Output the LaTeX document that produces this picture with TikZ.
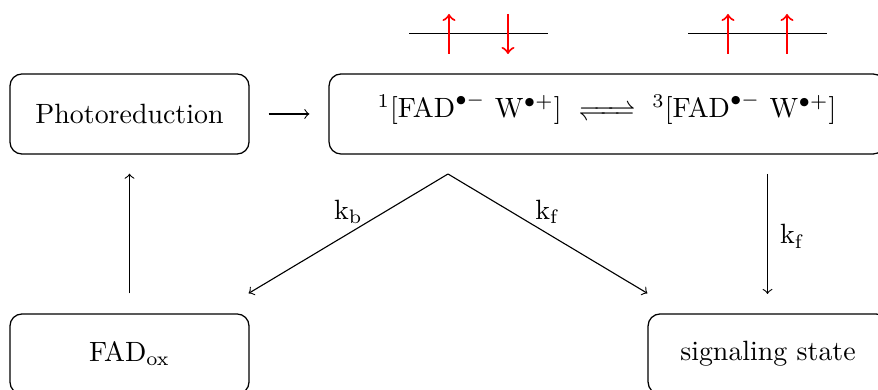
\documentclass[tikz,border=0pt]{standalone}
\usepackage{mathtools}
\usetikzlibrary{calc}
\begin{document}
\begin{tikzpicture}[x=0.3585pt,y=-0.3585pt,
  box/.style={draw,rounded corners=4.3pt,line width=0.45pt,inner sep=0pt,minimum height=28.7pt},
  conn/.style={->,line width=0.4pt},
  spinline/.style={line width=0.45pt},
  spin/.style={->,red,line width=0.75pt}]
\useasboundingbox (0,0) rectangle (878,390);
\node[box,minimum width=85.7pt] (photo) at (129.5,114) {Photoreduction};
\node[box,minimum width=199.3pt] (rp) at (607,114) {$^1[\mathrm{FAD}^{\bullet-}\ \mathrm{W}^{\bullet+}]\ \xrightleftharpoons{\hspace{14pt}}\ {}^3[\mathrm{FAD}^{\bullet-}\ \mathrm{W}^{\bullet+}]$};
\node[box,minimum width=85.7pt] (fad) at (129.5,354) {$\mathrm{FAD}_{\mathrm{ox}}$};
\node[box,minimum width=86pt] (sig) at (768,354) {signaling state};
% connectors
\draw[conn,shorten <=19*0.3585pt,shorten >=19*0.3585pt] (photo.east) -- (rp.west);
\draw[conn,shorten <=20*0.3585pt,shorten >=19*0.3585pt] (fad.north) -- (photo.south);
\coordinate (apex) at (448,174);
\coordinate (kbend) at ($(fad.north east)+(-1,-20)$);
\coordinate (kfend) at ($(sig.north west)+(0,-20)$);
\coordinate (rtop) at (767.5,174);
\coordinate (rend) at (767.5,294);
\draw[conn] (apex) -- node[pos=0.5,yshift=22*0.3585pt] {$\mathrm{k_b}$} (kbend);
\draw[conn] (apex) -- node[pos=0.5,yshift=22*0.3585pt] {$\mathrm{k_f}$} (kfend);
\draw[conn] (rtop) -- node[right=1pt,pos=0.52] {$\mathrm{k_f}$} (rend);
% spin diagrams
\coordinate (l1a) at (409,33.5); \coordinate (l1b) at (548,33.5);
\coordinate (l2a) at (688,33.5); \coordinate (l2b) at (827,33.5);
\draw[spinline] (l1a) -- (l1b);
\draw[spinline] (l2a) -- (l2b);
\coordinate (s1b) at (449,54); \coordinate (s1t) at (449,14);
\coordinate (s2b) at (508,54); \coordinate (s2t) at (508,14);
\coordinate (s3b) at (728,54); \coordinate (s3t) at (728,14);
\coordinate (s4b) at (787,54); \coordinate (s4t) at (787,14);
\draw[spin] (s1b) -- (s1t);
\draw[spin] (s2t) -- (s2b);
\draw[spin] (s3b) -- (s3t);
\draw[spin] (s4b) -- (s4t);
\end{tikzpicture}
\end{document}
